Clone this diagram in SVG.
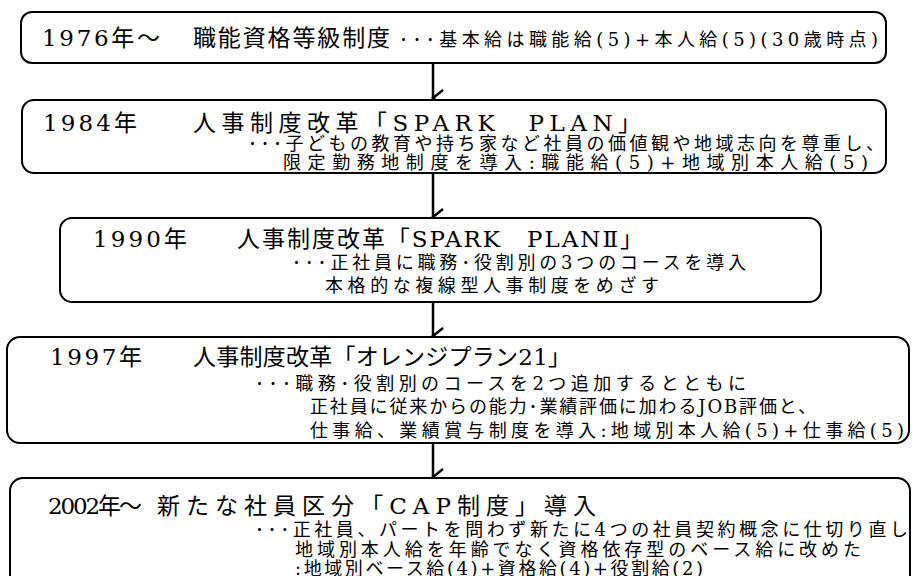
<svg xmlns="http://www.w3.org/2000/svg" width="912" height="576" viewBox="0 0 912 576">
<style>
.box{fill:#fff;stroke:#000;stroke-width:2}
.t{font-family:"DejaVu Serif","Noto Sans CJK JP",serif;font-size:23px;fill:#000}
.s{font-family:"DejaVu Serif","Noto Sans CJK JP",serif;font-size:18px;fill:#000}
.c{stroke:#000;stroke-width:2.5;fill:none}
</style>
<defs>
<marker id="ah" markerUnits="userSpaceOnUse" markerWidth="20" markerHeight="16" refX="10" refY="14" orient="auto-start-reverse" viewBox="0 0 20 16">
<polyline points="2,4 10,14 18,4" fill="none" stroke="#000" stroke-width="2.5"/>
</marker>
</defs>
<rect width="912" height="576" fill="#fff"/>
<g id="connectors">
<line class="c" x1="433" y1="64" x2="433" y2="98" marker-end="url(#ah)"/>
<line class="c" x1="433" y1="174" x2="433" y2="217" marker-end="url(#ah)"/>
<line class="c" x1="433" y1="303" x2="433" y2="336" marker-end="url(#ah)"/>
<line class="c" x1="433" y1="444" x2="433" y2="477" marker-end="url(#ah)"/>
</g>
<g id="n1976">
<rect class="box" x="21" y="12" width="865" height="51" rx="11"/>
<text class="t" x="42" y="46" textLength="118" lengthAdjust="spacing">1976年～</text>
<text class="t" x="193" y="46" textLength="197" lengthAdjust="spacing">職能資格等級制度</text>
<text class="s" x="399" y="46" textLength="479" lengthAdjust="spacing">･･･基本給は職能給(5)+本人給(5)(30歳時点)</text>
</g>
<g id="n1984">
<rect class="box" x="22" y="100" width="864" height="73" rx="12"/>
<text class="t" x="43" y="131" textLength="94" lengthAdjust="spacing">1984年</text>
<text class="t" x="193" y="131" textLength="448" lengthAdjust="spacing">人事制度改革「SPARK　PLAN」</text>
<text class="s" x="248" y="150" textLength="636" lengthAdjust="spacing">･･･子どもの教育や持ち家など社員の価値観や地域志向を尊重し、</text>
<text class="s" x="283" y="169" textLength="585" lengthAdjust="spacing">限定勤務地制度を導入:職能給(5)+地域別本人給(5)</text>
</g>
<g id="n1990">
<rect class="box" x="60" y="218" width="761" height="84" rx="12"/>
<text class="t" x="93" y="247" textLength="94" lengthAdjust="spacing">1990年</text>
<text class="t" x="237" y="247" textLength="406" lengthAdjust="spacing">人事制度改革「SPARK　PLANⅡ」</text>
<text class="s" x="292" y="269" textLength="454" lengthAdjust="spacing">･･･正社員に職務･役割別の3つのコースを導入</text>
<text class="s" x="325" y="292" textLength="334" lengthAdjust="spacing">本格的な複線型人事制度をめざす</text>
</g>
<g id="n1997">
<rect class="box" x="7" y="337" width="902" height="106" rx="13"/>
<text class="t" x="50" y="365" textLength="92" lengthAdjust="spacing">1997年</text>
<text class="t" x="193" y="365" textLength="378" lengthAdjust="spacing">人事制度改革「オレンジプラン21」</text>
<text class="s" x="255" y="390" textLength="491" lengthAdjust="spacing">･･･職務･役割別のコースを2つ追加するとともに</text>
<text class="s" x="310" y="413" textLength="506" lengthAdjust="spacing">正社員に従来からの能力･業績評価に加わるJOB評価と、</text>
<text class="s" x="310" y="437" textLength="594" lengthAdjust="spacing">仕事給、業績賞与制度を導入:地域別本人給(5)+仕事給(5)</text>
</g>
<g id="n2002">
<rect class="box" x="10" y="478" width="900" height="112" rx="13"/>
<text class="t" x="48" y="514" textLength="94" lengthAdjust="spacing">2002年～</text>
<text class="t" x="157" y="514" textLength="439" lengthAdjust="spacing">新たな社員区分「CAP制度」導入</text>
<text class="s" x="255" y="536" textLength="653" lengthAdjust="spacing">･･･正社員、パートを問わず新たに4つの社員契約概念に仕切り直し</text>
<text class="s" x="295" y="556" textLength="566" lengthAdjust="spacing">地域別本人給を年齢でなく資格依存型のベース給に改めた</text>
<text class="s" x="295" y="575" textLength="408" lengthAdjust="spacing">:地域別ベース給(4)+資格給(4)+役割給(2)</text>
</g>
</svg>
